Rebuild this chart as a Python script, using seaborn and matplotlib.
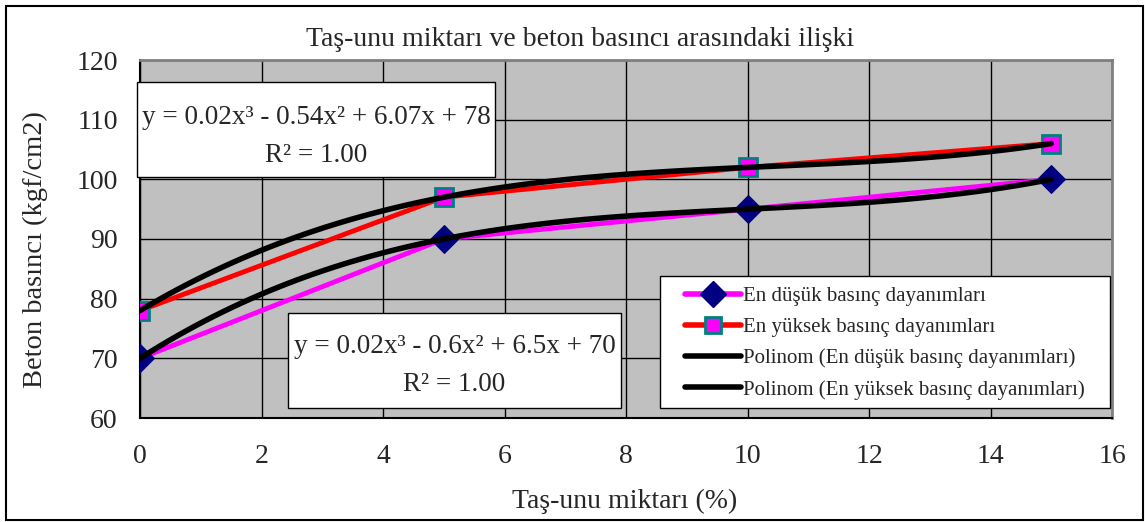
import numpy as np
import pandas as pd
import matplotlib.pyplot as plt
import seaborn as sns
from matplotlib.lines import Line2D
from matplotlib.patches import Rectangle

# data
tas_unu = [0, 5, 10, 15]
en_dusuk = [70, 90, 95, 100]
en_yuksek = [78, 97, 102, 106]
series_names = ['En düşük basınç dayanımları', 'En yüksek basınç dayanımları']
trend_names = ['Polinom (En düşük basınç dayanımları)', 'Polinom (En yüksek basınç dayanımları)']
eq_dusuk = 'y = 0.02x³ - 0.6x² + 6.5x + 70\nR² = 1.00'
eq_yuksek = 'y = 0.02x³ - 0.54x² + 6.07x + 78\nR² = 1.00'

df = pd.DataFrame({'x': tas_unu, 'low': en_dusuk, 'high': en_yuksek})

sns.set_style('white')
plt.rcParams['font.family'] = ['Liberation Serif', 'DejaVu Serif']

fig = plt.figure(figsize=(11.45, 5.22), dpi=100)
ax = fig.add_axes([140/1145, 1-418/522, 972/1145, 358/522])
ax.set_facecolor('#C0C0C0')

sns.lineplot(data=df, x='x', y='low', ax=ax, color='#FF00FF', lw=3.5, marker='D',
             markersize=14, markerfacecolor='#000080', markeredgecolor='#000080', zorder=3)
sns.lineplot(data=df, x='x', y='high', ax=ax, color='#FF0000', lw=3.5, marker='s',
             markersize=13, markerfacecolor='#FF00FF', markeredgecolor='#008080',
             markeredgewidth=2, zorder=3)
for col in ['low', 'high']:
    sns.regplot(data=df, x='x', y=col, ax=ax, order=3, ci=None, scatter=False, truncate=True,
                color='black', line_kws=dict(lw=4, zorder=4, solid_capstyle='round'))

ax.set_xlim(0, 16)
ax.set_ylim(60, 120)
ax.set_xticks(range(0, 17, 2))
ax.set_yticks(range(60, 121, 10))
ax.grid(True, color='black', lw=1)
ax.set_axisbelow(True)
ax.set_xlabel('')
ax.set_ylabel('')
ax.tick_params(axis='both', direction='out', length=8, width=1, color='black', labelsize=20)
ax.tick_params(axis='x', pad=11)
ax.tick_params(axis='y', pad=8)
for s in ['top', 'right']:
    ax.spines[s].set_color('#808080')
    ax.spines[s].set_linewidth(2)
for s in ['left', 'bottom']:
    ax.spines[s].set_color('black')
    ax.spines[s].set_linewidth(1.5)

# trendline equation boxes
def eq_box(x0, y0, x1, y1, text, shift):
    ax.add_patch(Rectangle(((x0-140)/972, (418-y1)/358), (x1-x0)/972, (y1-y0)/358,
                           transform=ax.transAxes, facecolor='white', edgecolor='black',
                           lw=1, zorder=5, clip_on=False))
    ax.text(((x0+x1)/2-140)/972, (418-(y0+y1)/2-shift)/358, text, transform=ax.transAxes,
            ha='center', va='center', multialignment='center', fontsize=19.5,
            linespacing=1.7, zorder=6)

eq_box(137, 82, 495, 177, eq_yuksek, 7)
eq_box(288, 313, 621, 408, eq_dusuk, 5)

# legend box
ax.add_patch(Rectangle(((660-140)/972, (418-408)/358), 450/972, 132/358,
                       transform=ax.transAxes, facecolor='white', edgecolor='black',
                       lw=1, zorder=5))
handles = [
    Line2D([], [], color='#FF00FF', lw=4, marker='D', markersize=13,
           markerfacecolor='#000080', markeredgecolor='#000080'),
    Line2D([], [], color='#FF0000', lw=4, marker='s', markersize=12,
           markerfacecolor='#FF00FF', markeredgecolor='#008080', markeredgewidth=2),
    Line2D([], [], color='black', lw=4, solid_capstyle='round'),
    Line2D([], [], color='black', lw=4, solid_capstyle='round'),
]
leg = ax.legend(handles, series_names + trend_names, loc='center',
                bbox_to_anchor=((885-140)/972, (418-343)/358), fontsize=15,
                frameon=False, handlelength=2.7, handletextpad=0.1, labelspacing=0.55,
                borderpad=0, borderaxespad=0)
leg.set_zorder(6)

fig.text(580/1145, 1-39/522, 'Taş-unu miktarı ve beton basıncı arasındaki ilişki',
         ha='center', va='center', fontsize=20)
fig.text(625/1145, 1-501/522, 'Taş-unu miktarı (%)', ha='center', va='center', fontsize=20)
fig.text(35/1145, 1-250/522, 'Beton basıncı (kgf/cm2)', ha='center', va='center',
         rotation=90, fontsize=20.5)

fig.patches.append(Rectangle((6/1145, 2/522), 1137/1145, 514/522, transform=fig.transFigure,
                             fill=False, edgecolor='black', lw=1.5))

fig.savefig('out.png', dpi=100)
